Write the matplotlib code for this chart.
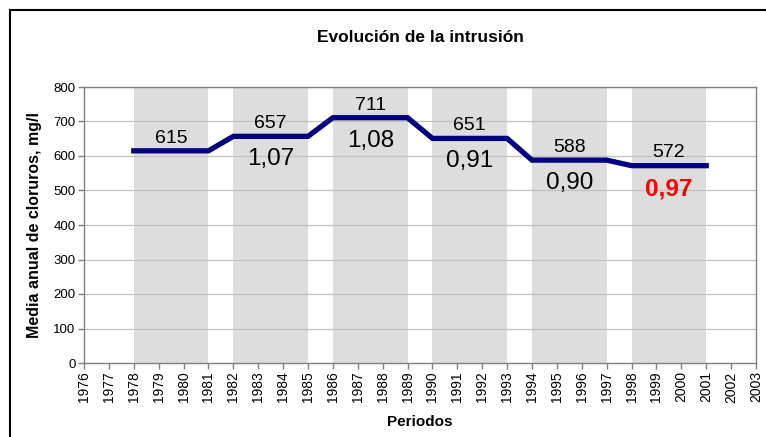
import matplotlib.pyplot as plt
from matplotlib.lines import Line2D

plt.rcParams['font.family'] = ['Liberation Sans', 'DejaVu Sans']

years = list(range(1976, 2004))
period_start = [1978, 1982, 1986, 1990, 1994, 1998]
period_end = [1981, 1985, 1989, 1993, 1997, 2001]
means = [615, 657, 711, 651, 588, 572]
ratios = ["", "1,07", "1,08", "0,91", "0,90", "0,97"]


def main():
    fig = plt.figure(figsize=(7.66, 4.37), dpi=100)
    ax = fig.add_axes([84 / 766, 1 - 363 / 437, 672 / 766, 276 / 437])

    # gray bands for each period
    for s, e in zip(period_start, period_end):
        ax.axvspan(s, e, color="#dddddd", lw=0, zorder=0)

    for v in range(100, 801, 100):
        ax.axhline(v, color="#c0c0c0", lw=0.9, zorder=1)

    xs = []
    ys = []
    for s, e, m in zip(period_start, period_end, means):
        xs += [s, e]
        ys += [m, m]
    ax.plot(xs, ys, color="#000080", lw=3.8, solid_joinstyle="miter", zorder=3)

    for s, e, m, r in zip(period_start, period_end, means, ratios):
        mid = (s + e) / 2
        ax.annotate(str(m), (mid, m), xytext=(0, 3), textcoords="offset points",
                    ha="center", va="bottom", fontsize=14, zorder=4)
        if r:
            last = r == ratios[-1]
            ax.annotate(r, (mid, m), xytext=(0, -8.5), textcoords="offset points",
                        ha="center", va="top", fontsize=17.5,
                        color="#ff0000" if last else "black",
                        fontweight="bold" if last else "normal", zorder=4)

    ax.set_xlim(1976, 2003)
    ax.set_ylim(0, 800)
    ax.set_xticks(years)
    ax.set_xticklabels([str(y) for y in years], rotation=90, fontsize=10)
    ax.set_yticks(range(0, 801, 100))
    ax.tick_params(axis="y", labelsize=9.5)
    ax.tick_params(direction="out", length=4, color="#808080", width=1, pad=2)
    for sp in ax.spines.values():
        sp.set_color("#808080")
        sp.set_linewidth(1)

    ax.set_xlabel("Periodos", fontsize=11, fontweight="bold", labelpad=9)
    ax.set_ylabel("Media anual de cloruros, mg/l", fontsize=11.5, fontweight="bold", labelpad=8)
    fig.text(420 / 766, 1 - 37 / 437, "Evolución de la intrusión", ha="center", va="center",
             fontsize=12.5, fontweight="bold")

    # outer frame (cut off on the right and bottom)
    fig.add_artist(Line2D([10 / 766, 10 / 766], [0, 1 - 10 / 437], color="black", lw=1.5))
    fig.add_artist(Line2D([10 / 766, 1], [1 - 10 / 437, 1 - 10 / 437], color="black", lw=1.5))

    fig.savefig("out.png", dpi=100)


if __name__ == '__main__':
    main()
